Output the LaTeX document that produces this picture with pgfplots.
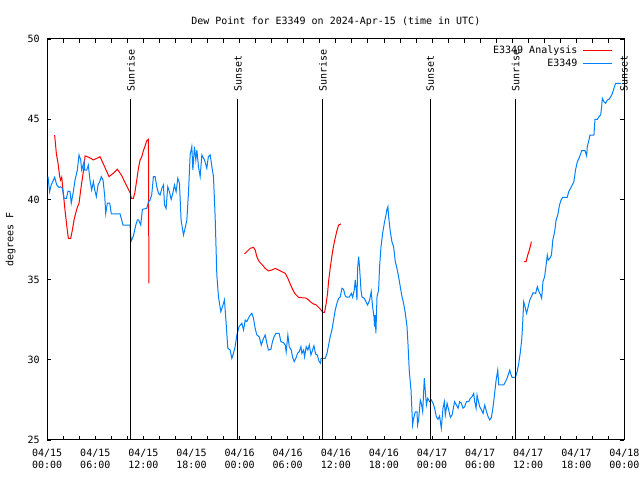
\documentclass[border=0pt]{standalone}
\usepackage{fontspec}
\setmainfont{DejaVu Sans Mono}
\usepackage{pgfplots}
\pgfplotsset{compat=1.18}
\definecolor{ablue}{RGB}{0,128,255}
\definecolor{ared}{RGB}{255,0,0}
\begin{document}
\begin{tikzpicture}[font=\fontsize{10bp}{12bp}\selectfont]
\path[use as bounding box] (0,0) rectangle (640bp,480bp);
\begin{axis}[
  at={(47.2bp,40bp)}, anchor=south west,
  scale only axis, width=577.2bp, height=401bp,
  xmin=0, xmax=72, ymin=25, ymax=50,
  clip=false,
  unbounded coords=jump,
  xtick={0,6,...,72}, minor xtick={0,2,...,72},
  ytick={25,30,...,50},
  tick align=inside, major tick length=4bp, minor tick length=4bp,
  every tick/.style={black, line width=0.8bp},
  axis line style={black, line width=1bp},
  /pgf/number format/assume math mode=true,
  xticklabels={04/15\\00:00,04/15\\06:00,04/15\\12:00,04/15\\18:00,04/16\\00:00,04/16\\06:00,04/16\\12:00,04/16\\18:00,04/17\\00:00,04/17\\06:00,04/17\\12:00,04/17\\18:00,04/18\\00:00},
  xticklabel style={align=center, yshift=-6bp},
  yticklabel style={xshift=-4bp},
  title={Dew Point for E3349 on 2024-Apr-15 (time in UTC)},
  title style={at={(axis description cs:0.5,1)}, anchor=base, yshift=9bp, inner sep=0pt},
  ylabel={degrees F},
  ylabel style={at={(axis description cs:-0.0587,0.5)}, anchor=base, inner sep=0pt},
  legend plot pos=right,
  legend cell align=right,
  legend image post style={xscale=1.7},
  legend style={fill=none, draw=none, inner sep=0pt, at={(axis description cs:0.9794,0.9883)}, anchor=north east, row sep=0bp, column sep=3bp},
]
\addplot[color=ared, line width=1bp] coordinates {
(0.93,44.01) (1.14,42.87) (1.35,42.25) (1.56,41.42) (1.68,41.2) (1.81,41.38) (2.01,40.38) (2.22,39.34) (2.43,38.4) (2.64,37.57) (2.93,37.57) (3.14,38.09) (3.35,38.72) (3.55,39.13) (3.76,39.51) (3.97,39.76) (4.18,40.59) (4.39,41.32) (4.6,42.04) (4.72,42.71) (5.01,42.66) (5.43,42.56) (5.76,42.46) (6.18,42.56) (6.59,42.66) (6.88,42.35) (7.3,41.88) (7.71,41.42) (8.25,41.63) (8.75,41.88) (9.25,41.52) (9.8,40.96) (10.34,40.42) (10.5,40.07) (10.75,40.07) (10.92,40.38) (11.17,41.2) (11.38,41.94) (11.59,42.46) (11.8,42.66) (12.0,43.04) (12.21,43.33) (12.42,43.66) (12.63,43.75) (12.66,39.4) (12.68,34.77)
(12.7,nan)
(24.61,36.6) (24.9,36.74) (25.32,36.95) (25.73,37.01) (25.94,36.85) (26.15,36.43) (26.44,36.12) (26.86,35.91) (27.19,35.7) (27.6,35.54) (28.03,35.6) (28.44,35.7) (28.85,35.6) (29.28,35.49) (29.69,35.39) (30.02,35.08) (30.31,34.73) (30.65,34.35) (30.94,34.1) (31.35,33.9) (31.77,33.87) (32.27,33.85) (32.6,33.73) (32.93,33.58) (33.22,33.48) (33.56,33.42) (33.85,33.27) (34.1,33.15) (34.35,32.96) (34.6,32.96) (34.8,33.52) (34.97,34.14) (35.1,34.9) (35.3,35.7) (35.52,36.5) (35.72,37.1) (35.93,37.6) (36.14,38.05) (36.35,38.4) (36.64,38.47)
(37,nan)
(59.45,36.12) (59.74,36.12) (59.94,36.53) (60.15,36.85) (60.4,37.36)
};
\addlegendentry{E3349 Analysis}
\addplot[color=ablue, line width=1bp] coordinates {
(0.1,41.42) (0.3,40.48) (0.5,40.9) (0.93,41.38) (1.19,40.9) (1.47,40.75) (1.68,40.79) (1.89,40.69) (2.1,40.07) (2.4,40.07) (2.6,40.52) (2.85,40.48) (3.0,39.76) (3.26,40.48) (3.47,41.2) (3.76,41.83) (3.97,42.77) (4.18,42.46) (4.3,41.83) (4.6,42.35) (4.68,41.83) (4.93,41.83) (5.13,42.14) (5.34,41.2) (5.55,40.59) (5.76,41.1) (5.93,40.59) (6.13,40.17) (6.34,40.9) (6.55,41.1) (6.75,41.42) (6.97,41.2) (7.18,40.17) (7.3,39.13) (7.5,39.76) (7.8,39.76) (8.0,39.09) (9.09,39.09) (9.46,38.4) (10.34,38.4) (10.42,37.68) (10.5,37.43) (10.75,37.72) (11.05,38.4) (11.25,38.72) (11.4,38.72) (11.67,38.4) (11.87,39.38) (12.42,39.44) (12.63,39.86) (12.83,39.96) (13.04,40.3) (13.25,41.42) (13.46,41.42) (13.67,40.79) (13.88,40.38) (14.08,40.27) (14.3,40.69) (14.5,40.9) (14.63,39.65) (14.83,39.44) (15.04,40.79) (15.25,40.48) (15.46,40.0) (15.67,40.38) (15.87,40.9) (16.08,40.48) (16.29,41.32) (16.5,41.0) (16.7,38.72) (17.0,37.78) (17.2,38.2) (17.42,38.72) (17.62,40.38) (17.83,42.77) (18.04,43.29) (18.17,41.83) (18.37,43.29) (18.54,42.46) (18.67,43.08) (18.87,42.04) (19.08,41.42) (19.29,42.77) (19.62,42.46) (19.91,41.94) (20.1,42.66) (20.33,42.77) (20.54,42.04) (20.74,41.42) (20.95,38.92) (21.16,35.29) (21.36,33.93) (21.66,33.0) (21.86,33.31) (22.11,33.73) (22.32,32.28) (22.53,30.72) (22.82,30.61) (23.03,30.09) (23.23,30.4) (23.44,30.82) (23.66,31.55) (23.94,32.07) (24.28,32.28) (24.49,31.86) (24.7,32.48) (24.9,32.38) (25.1,32.59) (25.32,32.79) (25.53,32.9) (25.73,32.59) (25.94,31.96) (26.15,31.55) (26.44,31.44) (26.7,30.92) (26.9,31.23) (27.19,31.55) (27.4,31.03) (27.6,30.61) (27.9,30.65) (28.1,31.13) (28.3,31.44) (28.52,31.65) (28.93,31.65) (29.15,31.13) (29.48,31.07) (29.69,30.92) (29.81,30.5) (30.02,31.55) (30.19,30.82) (30.44,30.61) (30.6,30.19) (30.81,29.88) (31.02,30.09) (31.22,30.4) (31.43,30.5) (31.65,30.82) (31.77,30.4) (31.98,30.61) (32.1,30.19) (32.31,30.82) (32.52,30.61) (32.69,30.92) (32.9,30.3) (33.1,30.61) (33.27,30.88) (33.48,30.36) (33.69,30.3) (33.93,29.88) (34.1,29.78) (34.16,30.09) (34.68,30.09) (34.9,30.4) (35.1,30.92) (35.3,31.44) (35.52,31.86) (35.72,32.48) (35.93,33.1) (36.14,33.52) (36.35,33.83) (36.56,33.93) (36.77,34.46) (36.97,34.39) (37.18,33.98) (37.39,33.9) (37.68,33.9) (37.93,34.14) (38.1,33.9) (38.3,34.35) (38.43,34.98) (38.55,34.35) (38.64,33.73) (38.72,35.7) (38.85,36.43) (38.96,35.8) (39.14,34.35) (39.26,33.93) (39.55,33.83) (39.76,33.62) (39.97,33.42) (40.22,33.73) (40.42,34.25) (40.59,33.31) (40.76,32.69) (40.84,32.07) (40.92,32.79) (41.0,31.65) (41.14,33.93) (41.34,34.35) (41.46,35.8) (41.64,37.05) (41.84,37.88) (42.05,38.51) (42.26,39.03) (42.38,39.38) (42.5,39.55) (42.59,38.92) (42.8,37.99) (43.0,37.36) (43.21,37.05) (43.42,36.12) (43.63,35.7) (43.83,35.18) (44.04,34.56) (44.26,33.93) (44.46,33.52) (44.67,32.9) (44.88,32.07) (45.0,31.03) (45.17,29.26) (45.38,28.12) (45.58,25.94) (45.71,26.35) (45.92,26.76) (46.13,26.76) (46.2,25.94) (46.33,26.25) (46.54,27.49) (46.67,27.29) (46.84,26.76) (47.04,28.85) (47.17,28.01) (47.3,27.18) (47.46,27.6) (47.71,27.39) (47.92,27.49) (48.13,27.29) (48.33,26.98) (48.54,26.45) (48.75,26.29) (48.95,26.5) (49.16,25.73) (49.37,26.98) (49.54,27.39) (49.66,26.56) (49.88,27.29) (50.08,26.87) (50.29,26.41) (50.5,26.56) (50.7,27.08) (50.82,27.39) (51.04,27.18) (51.25,26.98) (51.45,27.39) (51.66,27.29) (51.87,26.98) (52.08,27.08) (52.29,27.39) (52.58,27.39) (52.79,27.6) (53.0,27.7) (53.2,27.91) (53.33,27.39) (53.5,26.98) (53.62,27.8) (53.75,27.49) (53.95,27.08) (54.17,26.87) (54.37,26.66) (54.58,27.18) (54.8,26.76) (55.0,26.45) (55.2,26.25) (55.41,26.41) (55.62,27.08) (55.79,27.8) (56.0,28.74) (56.2,29.36) (56.33,28.43) (56.95,28.43) (57.16,28.63) (57.37,28.85) (57.57,29.16) (57.7,29.36) (57.87,29.05) (57.99,28.91) (58.4,28.91) (58.62,29.26) (58.82,29.78) (59.0,30.4) (59.2,31.3) (59.3,32.17) (59.44,33.62) (59.6,33.31) (59.8,32.9) (60.0,33.31) (60.2,33.73) (60.4,33.93) (60.6,34.18) (60.93,34.14) (61.14,34.56) (61.34,34.25) (61.55,34.04) (61.68,33.83) (61.84,34.87) (62.05,35.18) (62.26,36.02) (62.38,36.53) (62.5,36.22) (62.7,36.33) (62.9,36.53) (63.07,37.47) (63.3,37.99) (63.48,38.72) (63.69,39.03) (63.9,39.65) (64.1,39.96) (64.3,40.13) (64.87,40.13) (65.06,40.48) (65.28,40.69) (65.5,40.9) (65.7,41.1) (65.9,41.83) (66.13,42.35) (66.33,42.56) (66.54,42.83) (66.67,43.04) (67.08,43.04) (67.29,42.71) (67.37,43.29) (67.58,43.7) (67.7,44.01) (68.2,44.01) (68.33,44.99) (68.62,44.99) (68.83,45.16) (69.04,45.26) (69.16,45.78) (69.25,46.3) (69.45,46.09) (69.66,45.99) (69.87,46.2) (70.08,46.24) (70.3,46.4) (70.5,46.61) (70.7,46.93) (70.9,47.24) (71.6,47.24)
};
\addlegendentry{E3349}
\addplot[black, line width=1bp, forget plot] coordinates {(10.44,25) (10.44,46.26)};
\addplot[black, line width=1bp, forget plot] coordinates {(23.79,25) (23.79,46.26)};
\addplot[black, line width=1bp, forget plot] coordinates {(34.39,25) (34.39,46.26)};
\addplot[black, line width=1bp, forget plot] coordinates {(47.79,25) (47.79,46.26)};
\addplot[black, line width=1bp, forget plot] coordinates {(58.44,25) (58.44,46.26)};
\addplot[black, line width=1bp, forget plot] coordinates {(71.95,25) (71.95,46.26)};
\node[rotate=90, anchor=west, inner sep=0pt] at (axis cs:10.44,46.7) {Sunrise};
\node[rotate=90, anchor=west, inner sep=0pt] at (axis cs:23.79,46.7) {Sunset};
\node[rotate=90, anchor=west, inner sep=0pt] at (axis cs:34.39,46.7) {Sunrise};
\node[rotate=90, anchor=west, inner sep=0pt] at (axis cs:47.79,46.7) {Sunset};
\node[rotate=90, anchor=west, inner sep=0pt] at (axis cs:58.44,46.7) {Sunrise};
\node[rotate=90, anchor=west, inner sep=0pt] at (axis cs:71.95,46.7) {Sunset};
\end{axis}
\end{tikzpicture}
\end{document}
